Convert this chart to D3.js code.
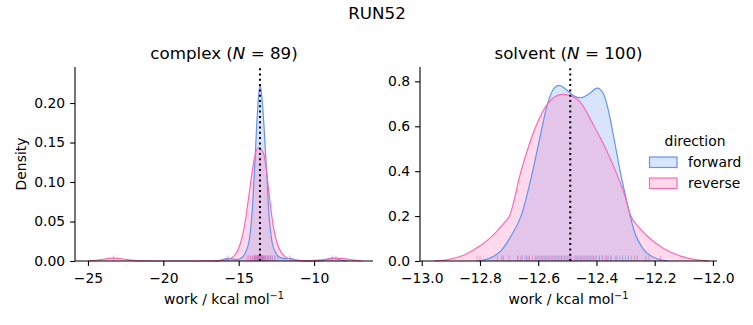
<!DOCTYPE html>
<html><head><meta charset="utf-8">
<script src="https://cdn.jsdelivr.net/npm/d3@7"></script>
<style>
body{margin:0;background:#fff;}
svg{display:block;font-family:"DejaVu Sans",sans-serif;}
</style></head>
<body><svg id="c" width="753" height="325"></svg>
<script>
// ---------- data ----------
const directions = ["forward", "reverse"];
const colors = ["#6495ED", "#FF69B4"];

const complexXTicks = [-25, -20, -15, -10];
const complexYTicks = [0, 0.05, 0.10, 0.15, 0.20];
const solventXTicks = [-13.0, -12.8, -12.6, -12.4, -12.2, -12.0];
const solventYTicks = [0, 0.2, 0.4, 0.6, 0.8];

// complex KDE curves (work, density)
const complexForwardX = [-16.6,-16.2,-15.95,-15.72,-15.45,-15.15,-14.85,-14.58,-14.30,-14.10,-13.96,-13.81,-13.70,-13.57,-13.45,-13.32,-13.14,-13.01,-12.81,-12.52,-12.2,-11.9,-11.6,-11.25,-10.9,-10.4,-9.8,-9.4,-9.1,-8.82,-8.5,-8.2,-7.8];
const complexForwardD = [0,0.0007,0.0025,0.0035,0.0026,0.0018,0.0035,0.0097,0.0266,0.0646,0.111,0.170,0.205,0.223,0.205,0.170,0.111,0.0646,0.0266,0.0097,0.004,0.003,0.0035,0.0015,0.0003,0,0,0.0008,0.0025,0.0038,0.003,0.001,0];
const complexReverseX = [-25.0,-24.5,-24.0,-23.6,-23.35,-23.0,-22.5,-22.0,-21.4,-20,-18,-16.5,-16.0,-15.6,-15.36,-14.96,-14.63,-14.30,-13.98,-13.70,-13.45,-13.25,-12.99,-12.70,-12.37,-11.93,-11.5,-11.0,-10.5,-10.0,-9.5,-9.0,-8.54,-8.0,-7.5,-7.0,-6.8];
const complexReverseD = [0,0.0008,0.0022,0.0034,0.0037,0.0033,0.002,0.0008,0.0001,0,0,0.0002,0.001,0.003,0.0055,0.018,0.043,0.086,0.128,0.144,0.140,0.128,0.086,0.043,0.018,0.0055,0.002,0.0008,0.0005,0.0008,0.0015,0.0028,0.0037,0.003,0.0015,0.0003,0];

// solvent KDE curves (work, density)
const solventForwardX = [-12.808,-12.762,-12.728,-12.694,-12.659,-12.619,-12.591,-12.568,-12.545,-12.528,-12.505,-12.477,-12.454,-12.425,-12.397,-12.376,-12.357,-12.339,-12.317,-12.294,-12.271,-12.237,-12.191,-12.157];
const solventForwardD = [0,0.015,0.045,0.11,0.2,0.4,0.57,0.70,0.77,0.782,0.765,0.735,0.727,0.745,0.77,0.745,0.66,0.54,0.39,0.256,0.137,0.05,0.01,0];
const solventReverseX = [-12.957,-12.911,-12.854,-12.797,-12.751,-12.717,-12.699,-12.659,-12.608,-12.568,-12.517,-12.465,-12.408,-12.368,-12.334,-12.305,-12.282,-12.254,-12.225,-12.168,-12.111,-12.054,-12.014];
const solventReverseD = [0,0.006,0.027,0.07,0.12,0.17,0.2,0.4,0.6,0.7,0.742,0.72,0.6,0.5,0.4,0.3,0.2,0.15,0.11,0.055,0.022,0.005,0];

// rug samples
const complexForwardRug = [-15.7,-14.2,-14.05,-13.95,-13.9,-13.85,-13.8,-13.78,-13.75,-13.72,-13.7,-13.68,-13.65,-13.63,-13.6,-13.58,-13.55,-13.52,-13.5,-13.48,-13.45,-13.42,-13.4,-13.38,-13.35,-13.3,-13.25,-13.2,-13.1,-13.0,-12.9,-12.75,-12.6,-12.4,-11.6,-8.8];
const complexReverseRug = [-23.3,-14.45,-14.35,-14.2,-14.1,-14.0,-13.95,-13.9,-13.85,-13.8,-13.75,-13.7,-13.65,-13.6,-13.55,-13.5,-13.45,-13.4,-13.3,-13.2,-13.1,-13.0,-12.9,-12.8,-12.6,-8.55];
const solventForwardRug = [-12.72,-12.67,-12.655,-12.64,-12.63,-12.61,-12.6,-12.59,-12.58,-12.57,-12.56,-12.55,-12.54,-12.53,-12.52,-12.51,-12.5,-12.49,-12.47,-12.46,-12.45,-12.44,-12.43,-12.42,-12.41,-12.4,-12.39,-12.38,-12.37,-12.36,-12.35,-12.33,-12.31,-12.29,-12.26,-12.23];
const solventReverseRug = [-12.81,-12.8,-12.74,-12.725,-12.7,-12.67,-12.66,-12.645,-12.635,-12.62,-12.605,-12.595,-12.585,-12.575,-12.565,-12.555,-12.545,-12.535,-12.525,-12.515,-12.505,-12.495,-12.485,-12.475,-12.465,-12.455,-12.445,-12.435,-12.425,-12.415,-12.405,-12.39,-12.38,-12.365,-12.35,-12.335,-12.32,-12.3,-12.28,-12.27,-12.22,-12.18];

const complexMean = -13.59;
const solventMean = -12.49;

// ---------- drawing ----------
const svg = d3.select("#c");
const FS = 13.9;

svg.append("text").attr("x", 377).attr("y", 19).attr("text-anchor", "middle")
  .attr("font-size", 16.7).text("RUN52");

function panel(opts) {
  const {x, y, fwd, rev, rugF, rugR, mean, xt, yt, xfmt, yfmt, title, N, ylabel} = opts;
  const g = svg.append("g");
  const [x0, x1] = x.range();
  const [yb, yt0] = y.range();

  const area = d3.area().x(d => x(d[0])).y0(yb).y1(d => y(d[1])).curve(d3.curveMonotoneX);
  const line = d3.line().x(d => x(d[0])).y(d => y(d[1])).curve(d3.curveMonotoneX);

  [fwd, rev].forEach((s, i) => {
    g.append("path").attr("d", area(s)).attr("fill", colors[i]).attr("fill-opacity", 0.25);
  });
  [fwd, rev].forEach((s, i) => {
    g.append("path").attr("d", line(s)).attr("fill", "none").attr("stroke", colors[i]).attr("stroke-width", 1.2);
  });

  // rugs
  [rugF, rugR].forEach((r, i) => {
    g.selectAll(null).data(r).enter().append("line")
      .attr("x1", d => x(d)).attr("x2", d => x(d))
      .attr("y1", yb).attr("y2", yb - 5.5)
      .attr("stroke", colors[i]).attr("stroke-opacity", 0.6).attr("stroke-width", 1);
  });

  // mean line
  g.append("line").attr("x1", x(mean)).attr("x2", x(mean)).attr("y1", yb).attr("y2", yt0)
    .attr("stroke", "#000").attr("stroke-width", 2).attr("stroke-dasharray", "2,3.3");

  // axes
  const ax = g.append("g").attr("transform", `translate(0,${yb})`)
    .call(d3.axisBottom(x).tickValues(xt).tickSize(4.9).tickPadding(3.5).tickFormat(d3.format(xfmt)));
  const ay = g.append("g").attr("transform", `translate(${x0},0)`)
    .call(d3.axisLeft(y).tickValues(yt).tickSize(4.9).tickPadding(4.9).tickFormat(d3.format(yfmt)));
  [ax, ay].forEach(a => {
    a.select(".domain").remove();
    a.selectAll(".tick line").attr("stroke", "#000").attr("stroke-width", 1.1);
    a.selectAll(".tick text").attr("font-size", FS).attr("font-family", "DejaVu Sans").attr("fill", "#000");
  });
  ax.selectAll(".tick text").attr("dy", "0.95em");
  g.append("line").attr("x1", x0).attr("x2", x1).attr("y1", yb).attr("y2", yb).attr("stroke", "#000").attr("stroke-width", 1.1);
  g.append("line").attr("x1", x0).attr("x2", x0).attr("y1", yb).attr("y2", yt0).attr("stroke", "#000").attr("stroke-width", 1.1);

  // title
  const t = svg.append("text").attr("x", (x0 + x1) / 2).attr("y", 59).attr("text-anchor", "middle").attr("font-size", 16.7);
  t.append("tspan").text(title + " (");
  t.append("tspan").attr("font-style", "italic").text("N");
  t.append("tspan").text(" = " + N + ")");

  // x label
  const xl = svg.append("text").attr("x", (x0 + x1) / 2).attr("y", 304).attr("text-anchor", "middle").attr("font-size", FS);
  xl.append("tspan").text("work / kcal mol");
  xl.append("tspan").attr("font-size", 9.7).attr("dy", -5).text("−1");

  if (ylabel) {
    svg.append("text").attr("transform", `translate(26,${(yb + yt0) / 2}) rotate(-90)`)
      .attr("text-anchor", "middle").attr("font-size", FS).text(ylabel);
  }
}

const zip = (a, b) => a.map((v, i) => [v, b[i]]);

panel({
  x: d3.scaleLinear().domain([-25.86, -6.09]).range([75, 373]),
  y: d3.scaleLinear().domain([0, 0.2456]).range([261, 67]),
  fwd: zip(complexForwardX, complexForwardD), rev: zip(complexReverseX, complexReverseD),
  rugF: complexForwardRug, rugR: complexReverseRug, mean: complexMean,
  xt: complexXTicks, yt: complexYTicks, xfmt: "d", yfmt: ".2f", title: "complex", N: 89, ylabel: "Density"
});
panel({
  x: d3.scaleLinear().domain([-13.006, -11.986]).range([420, 717]),
  y: d3.scaleLinear().domain([0, 0.864]).range([261, 67]),
  fwd: zip(solventForwardX, solventForwardD), rev: zip(solventReverseX, solventReverseD),
  rugF: solventForwardRug, rugR: solventReverseRug, mean: solventMean,
  xt: solventXTicks, yt: solventYTicks, xfmt: ".1f", yfmt: ".1f", title: "solvent", N: 100, ylabel: null
});

// legend
const lg = svg.append("g");
lg.append("text").attr("x", 695).attr("y", 146).attr("text-anchor", "middle").attr("font-size", FS).text("direction");
directions.forEach((d, i) => {
  const yy = 157 + i * 21;
  lg.append("rect").attr("x", 649.5).attr("y", yy).attr("width", 27.5).attr("height", 10.5)
    .attr("fill", colors[i]).attr("fill-opacity", 0.25).attr("stroke", colors[i]).attr("stroke-width", 1.2);
  lg.append("text").attr("x", 688).attr("y", yy + 10).attr("font-size", FS).text(d);
});
</script></body></html>
